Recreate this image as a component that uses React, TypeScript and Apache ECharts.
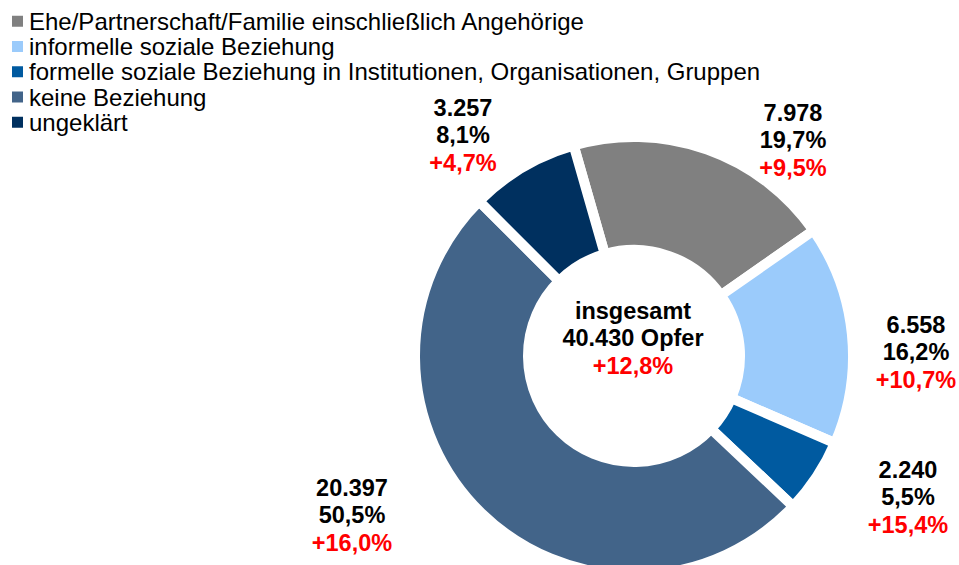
import React, { useEffect, useRef } from "react";
import * as echarts from "echarts";

const categories = [
  "Ehe/Partnerschaft/Familie einschließlich Angehörige",
  "informelle soziale Beziehung",
  "formelle soziale Beziehung in Institutionen, Organisationen, Gruppen",
  "keine Beziehung",
  "ungeklärt",
];
const victims = [7978, 6558, 2240, 20397, 3257];
const shares = [19.7, 16.2, 5.5, 50.5, 8.1];
const changes = [9.5, 10.7, 15.4, 16.0, 4.7];
const totalVictims = 40430;
const totalChange = 12.8;

const colors = ["#808080", "#9BCBFB", "#005AA0", "#426489", "#00305F"];
// label block anchor (middle line) per slice
const labelAnchors: [number, number][] = [
  [793, 140],
  [916, 352],
  [908, 497],
  [352, 515],
  [463, 135],
];

const FONT = "Arial, 'Liberation Sans', sans-serif";

const fmtInt = (v: number) => v.toString().replace(/\B(?=(\d{3})+(?!\d))/g, ".");
const fmtDec = (v: number) => v.toFixed(1).replace(".", ",");

export default function App() {
  const ref = useRef<HTMLDivElement>(null);
  useEffect(() => {
    document.body.style.margin = "0";
    if (!ref.current) return;
    const chart = echarts.init(ref.current, null, { renderer: "svg" });
    const LBL = 23.5;
    const rich = {
      a: { fontFamily: FONT, fontSize: LBL, fontWeight: "bold", color: "#000", lineHeight: 27.5 },
      b: { fontFamily: FONT, fontSize: LBL, fontWeight: "bold", color: "#FF0000", lineHeight: 27.5 },
    };
    const richG = {
      a: { fontFamily: FONT, fontSize: LBL, fontWeight: "bold", fill: "#000", lineHeight: 27.5 },
      b: { fontFamily: FONT, fontSize: LBL, fontWeight: "bold", fill: "#FF0000", lineHeight: 27.5 },
    };
    chart.setOption({
      animation: false,
      color: colors,
      legend: {
        orient: "vertical",
        left: 10,
        top: 9,
        padding: 0,
        itemWidth: 13,
        itemHeight: 13,
        itemGap: 1,
        icon: "rect",
        selectedMode: false,
        textStyle: { fontFamily: FONT, fontSize: 24, lineHeight: 24.3, color: "#000" },
        data: categories,
      },
      graphic: [
        {
          type: "text",
          x: 633,
          y: 338,
          silent: true,
          style: {
            text: `{a|insgesamt}\n{a|${fmtInt(totalVictims)} Opfer}\n{b|+${fmtDec(totalChange)}%}`,
            align: "center",
            verticalAlign: "middle",
            rich: richG,
          },
        },
      ],
      series: [
        {
          type: "pie",
          center: [634, 356],
          radius: [106, 219],
          startAngle: 106,
          clockwise: true,
          avoidLabelOverlap: false,
          emphasis: { disabled: true },
          itemStyle: { borderColor: "#ffffff", borderWidth: 10 },
          labelLine: { show: false },
          label: {
            show: true,
            position: "outside",
            formatter: (p: any) =>
              `{a|${fmtInt(victims[p.dataIndex])}}\n{a|${fmtDec(shares[p.dataIndex])}%}\n{b|+${fmtDec(changes[p.dataIndex])}%}`,
            rich,
          },
          labelLayout: (p: any) => {
            const [x, y] = labelAnchors[p.dataIndex];
            return { x, y, align: "center", verticalAlign: "middle" };
          },
          data: categories.map((name, i) => ({ name, value: victims[i] })),
        },
      ],
    });
    return () => chart.dispose();
  }, []);
  return <div ref={ref} style={{ width: 959, height: 565 }} />;
}
